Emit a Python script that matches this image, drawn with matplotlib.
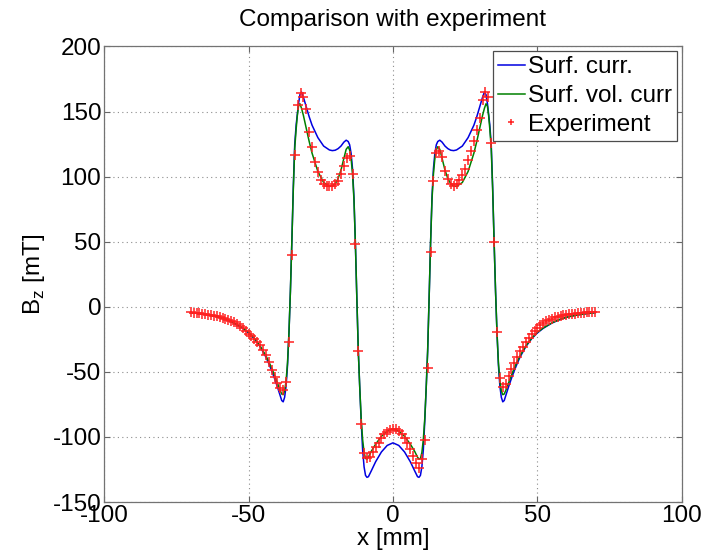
import matplotlib
matplotlib.use("Agg")
import matplotlib.pyplot as plt

plt.rcParams['font.family'] = ['Liberation Sans', 'DejaVu Sans']
plt.rcParams['mathtext.fontset'] = 'custom'
plt.rcParams['mathtext.rm'] = 'Liberation Sans'
plt.rcParams['axes.unicode_minus'] = False

# simulated curves (x in mm, Bz in mT)
x_sim = [-70, -67, -64, -61, -58, -55, -52, -50, -48, -46, -44, -43, -42, -41, -40,
         -39, -38.5, -38, -37.5, -37, -36.5, -36, -35.5, -35, -34.5, -34, -33.5, -33.1,
         -32.7, -32.2, -31.65, -31, -30, -29, -28, -26, -24, -22, -21, -20, -19, -18,
         -17, -16.2, -15.5, -15, -14.5, -14, -13.5, -13, -12.5, -12, -11.5, -11, -10.5,
         -10, -9.5, -9, -8.5, -7.5, -6, -4, -2,
         0,
         2, 4, 6, 7.5, 8.5, 9, 9.5, 10, 10.5, 11, 11.5, 12, 12.5, 13, 13.5, 14, 14.5,
         15, 15.5, 16.2, 17, 18, 19, 20, 21, 22, 24, 26, 28, 29, 30, 31, 31.65, 32.2,
         32.7, 33.1, 33.5, 34, 34.5, 35, 35.5, 36, 36.5, 37, 37.5, 38, 38.5, 39, 40, 41,
         42, 43, 44, 46, 48, 50, 52, 55, 58, 61, 64, 67, 70]

surf_curr = [-4.5, -5.2, -6.2, -7.5, -9.5, -12.5, -16.5, -20, -24.5, -30.5, -38.5, -43.5,
             -49, -55, -61.5, -68.5, -72, -73, -69.5, -61, -45, -20, 12, 50, 92, 125, 140,
             148, 156, 163, 165, 161, 153.5, 146, 139.5, 130, 123.5, 120.5, 120, 120.3,
             121.5, 123.5, 126.5, 128, 127, 124.5, 118, 106, 84, 48, 6, -34, -62, -88,
             -110, -123, -129.5, -131, -130.5, -126, -119, -111.5, -106.5,
             -104.5,
             -106.5, -111.5, -119, -126, -130.5, -131, -129.5, -123, -110, -88, -62, -34,
             6, 48, 84, 106, 118, 124.5, 127, 128, 126.5, 123.5, 121.5, 120.3, 120, 120.5,
             123.5, 130, 139.5, 146, 153.5, 161, 165, 163, 156, 148, 140, 125, 92, 50, 12,
             -20, -45, -61, -69.5, -73, -72, -68.5, -61.5, -55, -49, -43.5, -38.5, -30.5,
             -24.5, -20, -16.5, -12.5, -9.5, -7.5, -6.2, -5.2, -4.5]

surf_vol_curr = [-4.5, -5.2, -6.2, -7.5, -9.4, -12.3, -16.2, -19.5, -24, -30, -37.5, -42,
                 -47, -52.5, -58.5, -64.5, -67, -67.5, -64.5, -57, -43, -20, 12, 50, 90,
                 122, 137, 147, 154, 156, 152.5, 147, 137, 127, 118, 104, 95.5, 92.5, 92.8,
                 94.5, 98.5, 105, 114, 121, 123, 120.5, 114, 102, 82, 48, 6, -34, -62, -86,
                 -102, -112, -116.5, -117, -115.5, -111, -105.5, -99.5, -95.5,
                 -94,
                 -95.5, -99.5, -105.5, -111, -115.5, -117, -116.5, -112, -102, -86, -62,
                 -34, 6, 48, 82, 102, 114, 120.5, 123, 121, 114, 105, 98.5, 94.5, 92.8,
                 92.5, 95.5, 104, 118, 127, 137, 147, 152.5, 156, 154, 147, 137, 122, 90,
                 50, 12, -20, -43, -57, -64.5, -67.5, -67, -64.5, -58.5, -52.5, -47, -42,
                 -37.5, -30, -24, -19.5, -16.2, -12.3, -9.4, -7.5, -6.2, -5.2, -4.5]

# measured points, 1 mm steps
x_exp = [-70, -69, -68, -67, -66, -65, -64, -63, -62, -61,
         -60, -59, -58, -57, -56, -55, -54, -53, -52, -51,
         -50, -49, -48, -47, -46, -45, -44, -43, -42, -41,
         -40, -39, -38, -37, -36, -35, -34, -33, -32, -31,
         -30, -29, -28, -27, -26, -25, -24, -23, -22, -21,
         -20, -19, -18, -17, -16, -15, -14, -13, -12, -11,
         -10, -9, -8, -7, -6, -5, -4, -3, -2, -1,
         0,
         1, 2, 3, 4, 5, 6, 7, 8, 9, 10,
         11, 12, 13, 14, 15, 16, 17, 18, 19, 20,
         21, 22, 23, 24, 25, 26, 27, 28, 29, 30,
         31, 32, 33, 34, 35, 36, 37, 38, 39, 40,
         41, 42, 43, 44, 45, 46, 47, 48, 49, 50,
         51, 52, 53, 54, 55, 56, 57, 58, 59, 60,
         61, 62, 63, 64, 65, 66, 67, 68, 69, 70]

experiment = [-4.3, -4.5, -4.8, -5.1, -5.4, -5.7, -6.1, -6.5, -6.9, -7.4,
              -7.9, -8.5, -9.1, -9.9, -10.8, -11.9, -13.1, -14.6, -16.5, -18.6,
              -20.8, -22.8, -25.0, -27.3, -29.5, -32.8, -37.0, -42.5, -48.5, -54.0,
              -58.5, -62.5, -64.0, -57.5, -27.0, 40.0, 117.0, 155.0, 164.0, 161.0,
              152.0, 134.0, 122.5, 111.0, 103.5, 97.5, 94.0, 92.8, 92.5, 93.0,
              94.5, 96.5, 102.0, 108.5, 114.5, 116.0, 102.0, 48.0, -34.0, -90.0,
              -112.0, -116.0, -115.0, -111.5, -108.0, -104.5, -101.0, -98.0, -95.8, -94.3,
              -93.6,
              -94.0, -95.5, -97.8, -101.0, -105.0, -109.5, -114.5, -120.0, -124.0, -117.0,
              -102.0, -47.0, 42.0, 97.0, 118.0, 120.0, 115.0, 104.5, 98.0, 94.5,
              92.6, 94.0, 97.5, 101.5, 105.5, 113.0, 120.0, 127.5, 136.0, 145.0,
              159.0, 165.0, 161.5, 126.0, 50.0, -19.5, -55.0, -61.5, -59.0, -53.0,
              -48.0, -43.5, -38.5, -34.3, -30.5, -27.0, -23.8, -20.8, -18.2, -16.0,
              -14.0, -12.3, -11.0, -10.0, -9.0, -8.2, -7.6, -7.1, -6.6, -6.2,
              -5.9, -5.5, -5.2, -5.0, -4.7, -4.5, -4.2, -4.0, -3.8, -3.6]

fs = 17.5
fig = plt.figure(figsize=(7.03, 5.56), dpi=100)
ax = fig.add_axes([0.148, 0.097, 0.822, 0.8194])

ax.plot(x_sim, surf_curr, color='#0000e0', lw=1.1, label='Surf. curr.')
ax.plot(x_sim, surf_vol_curr, color='#008000', lw=1.1, label='Surf. vol. curr')
ax.plot(x_exp, experiment, ls='none', marker='+', ms=6.5, mew=1.1, color='#ff2020',
        label='Experiment')

ax.set_xlim(-100, 100)
ax.set_ylim(-150, 200)
ax.set_xticks([-100, -50, 0, 50, 100])
ax.set_yticks([-150, -100, -50, 0, 50, 100, 150, 200])
ax.grid(True, color='0.55', ls=(0, (1, 3)), lw=0.8)
ax.tick_params(direction='in', top=True, right=True, length=4, width=0.8,
               labelsize=fs, pad=2, color='0.4')
for s in ax.spines.values():
    s.set_color('0.45')
    s.set_linewidth(0.9)

ax.set_title('Comparison with experiment', fontsize=fs, pad=15)
ax.set_xlabel('x [mm]', fontsize=fs, labelpad=1)
ax.set_ylabel(r'B$_\mathregular{z}$ [mT]', fontsize=fs, labelpad=4)

leg = ax.legend(loc='upper right', fontsize=fs, fancybox=False, framealpha=1,
                edgecolor='0.3', borderpad=0.2, labelspacing=0.28, handlelength=1.1,
                handletextpad=0.15, borderaxespad=0.2, numpoints=1, markerscale=0.6)
leg.get_frame().set_linewidth(0.9)

fig.savefig('out.png', dpi=100)
